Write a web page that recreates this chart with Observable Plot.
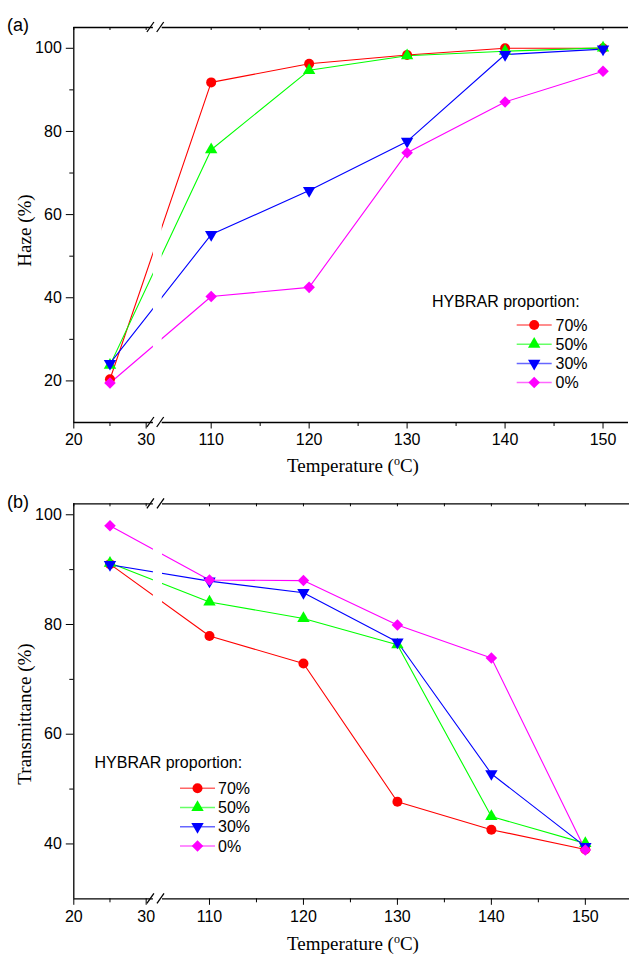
<!DOCTYPE html>
<html><head><meta charset="utf-8">
<script src="https://cdn.jsdelivr.net/npm/d3@7"></script>
<script src="https://cdn.jsdelivr.net/npm/@observablehq/plot@0.6"></script>
<style>
body{margin:0;background:#fff;}
#wrap{width:629px;}
#wrap svg{display:block;}
</style>
</head><body><div id="wrap"></div>
<script>
// ---- data ----
const temperatures = [25, 110, 120, 130, 140, 150];
const proportions = ["70%", "50%", "30%", "0%"];
const seriesColors = ["#ff0000", "#00ff00", "#0000ff", "#ff00ff"];
const markerSymbols = ["circle", "triangle", "triangle", "square"];
const markerRotate = [0, 0, 180, 45];
const markerR = [5, 4.6, 4.6, 4.6];

const haze70 = [20.4, 91.8, 96.3, 98.4, 100.0, 100.0];
const haze50 = [23.8, 75.6, 94.7, 98.2, 99.3, 100.1];
const haze30 = [24.2, 55.2, 65.8, 77.6, 98.5, 99.8];
const haze0  = [19.5, 40.3, 42.5, 74.9, 87.1, 94.5];

const trans70 = [91.0, 77.9, 72.9, 47.7, 42.6, 39.0];
const trans50 = [91.2, 84.1, 81.1, 76.3, 45.0, 40.1];
const trans30 = [90.9, 87.9, 85.8, 76.8, 52.8, 39.5];
const trans0  = [98.0, 88.1, 88.0, 79.9, 73.9, 38.9];

const xMajorTicks = [20, 30, 110, 120, 130, 140, 150];
const xMinorTicks = [25, 115, 125, 135, 145];
const hazeMajorTicks = [20, 40, 60, 80, 100];
const hazeMinorTicks = [30, 50, 70, 90];
const transMajorTicks = [40, 60, 80, 100];
const transMinorTicks = [50, 70, 90];

const legendTitle = "HYBRAR proportion:";
const sans = "'Liberation Sans', Arial, sans-serif";
const serif = "'Liberation Serif', 'Times New Roman', serif";

function drawPanel(o) {
  // broken axis: temperature -> fraction of axis length (piecewise, with a short gap segment)
  const W = o.xRange[o.xRange.length - 1] - o.xRange[0];
  const brk = d3.scaleLinear().domain(o.xDomain).range(o.xRange.map(p => (p - o.xRange[0]) / W));
  const fmt = d3.scaleLinear().domain(brk.range()).range(o.xDomain);
  const data = proportions.flatMap((p, i) => temperatures.map((t, j) => ({t, v: o.values[i][j], p, i})));
  const [ylo, yhi] = o.yDomain;
  const plotH = o.height - o.marginTop - o.marginBottom;
  const unitPerPx = (yhi - ylo) / plotH;
  const xMin = o.xDomain[0], xMax = o.xDomain[o.xDomain.length - 1];
  const bLo = o.xDomain[1], bHi = o.xDomain[2];
  const X = d => brk(d.t);
  const marks = [];
  proportions.forEach((p, i) => marks.push(
    Plot.line(data.filter(d => d.i === i), {x: X, y: "v", stroke: seriesColors[i], strokeWidth: 1.1})
  ));
  marks.push(Plot.rect([{x1: brk(bLo), x2: brk(bHi), y1: ylo, y2: yhi}], {x1: "x1", x2: "x2", y1: "y1", y2: "y2", fill: "white"}));
  proportions.forEach((p, i) => marks.push(
    Plot.dot(data.filter(d => d.i === i), {x: X, y: "v", fill: seriesColors[i], r: markerR[i], symbol: markerSymbols[i], rotate: markerRotate[i]})
  ));
  // frame lines with break
  marks.push(Plot.ruleX([brk(xMin)], {stroke: "black", strokeWidth: 1.3}));
  marks.push(Plot.ruleY([
    {y: ylo, x1: xMin, x2: bLo}, {y: ylo, x1: bHi, x2: xMax},
    {y: yhi, x1: xMin, x2: bLo}, {y: yhi, x1: bHi, x2: xMax}
  ], {y: "y", x1: d => brk(d.x1), x2: d => brk(d.x2), stroke: "black", strokeWidth: 1.3}));
  // top inward ticks
  marks.push(Plot.ruleX(xMajorTicks.concat(xMinorTicks), {x: d => brk(d), y1: yhi, y2: yhi - 3 * unitPerPx, stroke: "black"}));
  // axes
  marks.push(Plot.axisY(o.yMajor, {anchor: "left", tickSize: 7.5, tickPadding: 4.5, fontSize: 16, label: null, stroke: "black", fill: "black"}));
  marks.push(Plot.axisY(o.yMinor, {anchor: "left", tickSize: 4, tickFormat: () => "", label: null, stroke: "black"}));
  marks.push(Plot.axisX(xMajorTicks.map(brk), {anchor: "bottom", tickSize: 6.5, tickPadding: 5, fontSize: 16, label: null, stroke: "black", fill: "black", tickFormat: v => String(Math.round(fmt(v)))}));
  marks.push(Plot.axisX(xMinorTicks.map(brk), {anchor: "bottom", tickSize: 4, tickFormat: () => "", label: null, stroke: "black"}));

  const chart = Plot.plot({
    width: 629, height: o.height,
    marginTop: o.marginTop, marginBottom: o.marginBottom,
    marginLeft: o.xRange[0], marginRight: 629 - o.xRange[o.xRange.length - 1],
    x: {domain: [0, 1]},
    y: {domain: o.yDomain},
    style: {fontFamily: sans, fontSize: "16px", color: "black", background: "white", overflow: "visible"},
    marks
  });

  const svg = d3.select(chart);
  const xs = chart.scale("x"), ys = chart.scale("y");
  // break slashes
  const g = svg.append("g").attr("stroke", "black").attr("stroke-width", 1.3);
  [xs.apply(brk(bLo)) - 2.5, xs.apply(brk(bHi)) - 1.5].forEach(bx => {
    [ys.apply(ylo), ys.apply(yhi)].forEach(by => {
      g.append("line").attr("x1", bx - 3.5).attr("y1", by + 5).attr("x2", bx + 3.5).attr("y2", by - 5);
    });
  });
  // panel tag
  svg.append("text").attr("x", 7).attr("y", 30.5).attr("font-size", 18).attr("text-anchor", "start")
    .attr("font-family", sans).text(o.tag);
  // y label
  svg.append("text").attr("transform", `translate(31,${o.yLabelY}) rotate(-90)`)
    .attr("text-anchor", "middle").attr("font-family", serif)
    .attr("font-size", 19).text(o.yLabel);
  // x label
  const xl = svg.append("text").attr("x", 353).attr("y", o.xLabelY).attr("text-anchor", "middle")
    .attr("font-family", serif).attr("font-size", 19);
  xl.append("tspan").text("Temperature (");
  xl.append("tspan").attr("font-size", 12).attr("dy", -7).text("o");
  xl.append("tspan").attr("dy", 7).text("C)");
  // legend
  const L = o.legend;
  const lg = svg.append("g").attr("font-family", sans).attr("font-size", 16).attr("text-anchor", "start");
  lg.append("text").attr("x", L.titleX).attr("y", L.titleY).text(legendTitle);
  const symMap = {circle: d3.symbolCircle, triangle: d3.symbolTriangle, square: d3.symbolSquare};
  proportions.forEach((p, i) => {
    const cy = L.rowY + i * L.rowStep;
    lg.append("line").attr("x1", L.lineX1).attr("x2", L.lineX2).attr("y1", cy).attr("y2", cy)
      .attr("stroke", seriesColors[i]).attr("stroke-opacity", 0.6).attr("stroke-width", 1.5);
    lg.append("path").attr("d", d3.symbol(symMap[markerSymbols[i]], Math.PI * markerR[i] * markerR[i])())
      .attr("transform", `translate(${(L.lineX1 + L.lineX2) / 2},${cy}) rotate(${markerRotate[i]})`)
      .attr("fill", seriesColors[i]);
    lg.append("text").attr("x", L.textX).attr("y", cy + 5.7).text(p);
  });
  document.getElementById("wrap").appendChild(chart);
}

drawPanel({
  values: [haze70, haze50, haze30, haze0],
  yDomain: [10, 105], yMajor: hazeMajorTicks, yMinor: hazeMinorTicks,
  xDomain: [20, 31, 105, 152.6], xRange: [73.3, 152.9, 161.7, 628],
  height: 477, marginTop: 27, marginBottom: 55,
  tag: "(a)", yLabel: "Haze (%)", yLabelY: 230.5, xLabelY: 472,
  legend: {titleX: 432, titleY: 306.7, rowY: 325, rowStep: 19.2, lineX1: 516.7, lineX2: 551.7, textX: 555.5}
});
drawPanel({
  values: [trans70, trans50, trans30, trans0],
  yDomain: [30, 102], yMajor: transMajorTicks, yMinor: transMinorTicks,
  xDomain: [20, 31, 105, 154.7], xRange: [73.3, 152.9, 162, 629],
  height: 478, marginTop: 26.3, marginBottom: 56.7,
  tag: "(b)", yLabel: "Transmittance (%)", yLabelY: 237, xLabelY: 473,
  legend: {titleX: 94.5, titleY: 291.3, rowY: 311.3, rowStep: 19.2, lineX1: 180, lineX2: 215, textX: 218}
});
</script>
</body></html>
